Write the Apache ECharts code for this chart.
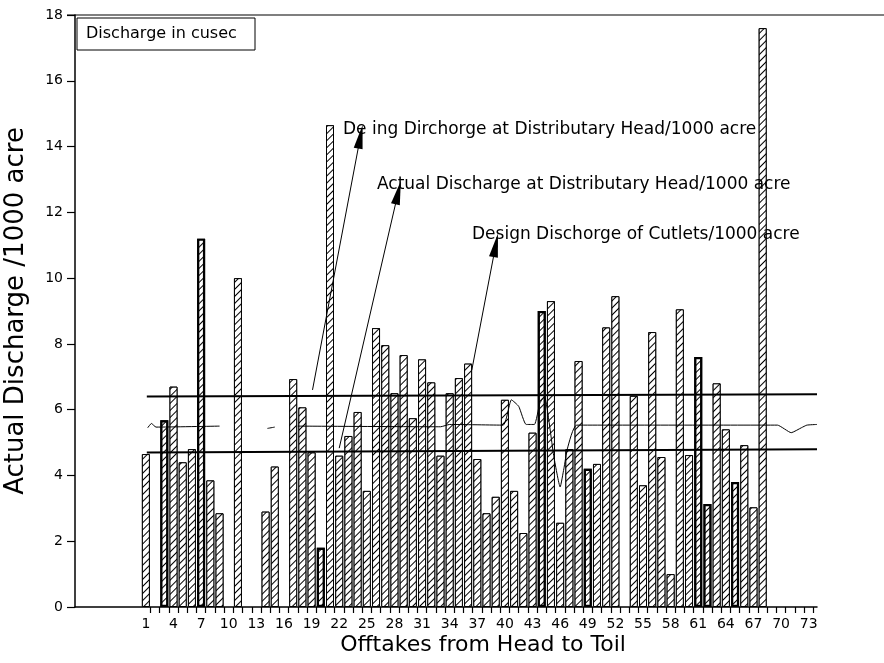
<!DOCTYPE html>
<html>
<head>
<meta charset="utf-8">
<script src="https://cdn.jsdelivr.net/npm/echarts@6/dist/echarts.min.js"></script>
<style>
  html, body { margin: 0; padding: 0; background: #fff; }
  #chart { width: 884px; height: 663px; }
</style>
</head>
<body>
<div id="chart"></div>
<script>
// offtake number of each bar and its discharge / 1000 acre
const offtakes = [1, 3, 4, 5, 6, 7, 8, 9, 11, 14, 15, 17, 18, 19, 20, 21, 22, 23, 24, 25,
  26, 27, 28, 29, 30, 31, 32, 33, 34, 35, 36, 37, 38, 39, 40, 41, 42, 43, 44, 45,
  46, 47, 48, 49, 50, 51, 52, 54, 55, 56, 57, 58, 59, 60, 61, 62, 63, 64, 65, 66, 67, 68]
const discharge = [4.65, 5.68, 6.7, 4.4, 4.8, 11.2, 3.85, 2.85, 10.0, 2.9, 4.27, 6.93, 6.07, 4.7, 1.8, 14.65, 4.6, 5.2, 5.93, 3.53,
  8.48, 7.96, 6.5, 7.66, 5.74, 7.53, 6.83, 4.6, 6.5, 6.96, 7.4, 4.5, 2.85, 3.35, 6.3, 3.53, 2.25, 5.3, 9.0, 9.3,
  2.56, 4.8, 7.48, 4.2, 4.35, 8.5, 9.45, 6.42, 3.7, 8.36, 4.56, 1.0, 9.05, 4.62, 7.6, 3.13, 6.8, 5.4, 3.8, 4.92, 3.03, 17.6]
// bars printed with a heavy outline in the scan
const boldBars = [3, 7, 20, 44, 49, 61, 62, 65]

// straight reference lines (start / end)
const upperLineX = [1.1, 73.9]
const upperLineY = [6.4, 6.47]
const lowerLineX = [1.1, 73.9]
const lowerLineY = [4.7, 4.8]

// thin wavy line, null = gap
const midLineX = [1.2, 1.6, 2.1, 9.0, null, 14.2, 15.0, null, 17.5, 33.0, 34.0, 39.8, 40.7, 41.5, 42.3, 43.2, 43.8, 44.3,
  45.3, 46.0, 46.4, 46.8, 47.8, 69.6, 71.1, 72.2, 72.8, 73.9]
const midLineY = [5.45, 5.58, 5.47, 5.5, null, 5.43, 5.47, null, 5.5, 5.48, 5.55, 5.53, 6.3, 6.1, 5.55, 5.55, 6.2, 6.4,
  4.6, 3.65, 4.2, 4.83, 5.53, 5.53, 5.3, 5.45, 5.53, 5.55]

// arrows [tailX, tailY, headX, headY]
const arrows = [
  [19.1, 6.6, 24.3, 14.3],
  [22.0, 4.83, 28.4, 12.6],
  [36.4, 7.2, 39.0, 11.0]
]

const xLabels = []
for (let k = 1; k <= 73; k += 3) xLabels.push(k)
const xTicks = []
for (let k = 1.5; k <= 73.5; k += 1) xTicks.push(k)

const font = "DejaVu Sans"

let myChart = echarts.init(document.getElementById("chart"), null, { renderer: "canvas" })

const hatch = {
  symbol: "rect",
  symbolSize: 1,
  dashArrayX: [1, 0],
  dashArrayY: [1, 4],
  rotation: -Math.PI / 4,
  color: "#000",
  backgroundColor: "#fff"
}

let option = {
  backgroundColor: "#fff",
  animation: false,
  grid: {
    left: 75,
    right: 67,
    top: 15,
    bottom: 56,
    containLabel: false,
    outerBoundsMode: "none"
  },
  xAxis: {
    type: "value",
    min: -6.7,
    max: 73.9,
    splitLine: { show: false },
    axisLine: { onZero: false, lineStyle: { color: "#000", width: 1.5 } },
    axisTick: { customValues: xTicks, length: 6, lineStyle: { color: "#000", width: 1.2 } },
    axisLabel: {
      customValues: xLabels,
      margin: 10,
      color: "#000",
      fontFamily: font,
      fontSize: 14
    }
  },
  yAxis: {
    type: "value",
    min: 0,
    max: 18,
    interval: 2,
    name: "Actual Discharge /1000 acre",
    nameLocation: "middle",
    nameGap: 46,
    nameTextStyle: { color: "#000", fontFamily: font, fontSize: 26 },
    splitLine: { show: false },
    axisLine: { show: true, onZero: false, lineStyle: { color: "#000", width: 1.5 } },
    axisTick: { show: true, length: 8, lineStyle: { color: "#000", width: 1.2 } },
    axisLabel: { margin: 12, color: "#000", fontFamily: font, fontSize: 14 }
  },
  series: [
    {
      type: "bar",
      barWidth: 8,
      data: offtakes.map((k, i) => ({
        value: [k, discharge[i]],
        itemStyle: { borderWidth: boldBars.includes(k) ? 2.2 : 1 }
      })),
      itemStyle: { color: "#fff", borderColor: "#000", borderWidth: 1, decal: hatch },
      z: 2
    },
    {
      type: "line",
      symbol: "none",
      data: upperLineX.map((x, i) => [x, upperLineY[i]]),
      lineStyle: { color: "#000", width: 2 },
      z: 3
    },
    {
      type: "line",
      symbol: "none",
      data: lowerLineX.map((x, i) => [x, lowerLineY[i]]),
      lineStyle: { color: "#000", width: 2 },
      z: 3
    },
    {
      type: "line",
      symbol: "none",
      connectNulls: false,
      smooth: 0.15,
      data: midLineX.map((x, i) => x === null ? [null, null] : [x, midLineY[i]]),
      lineStyle: { color: "#000", width: 1 },
      markLine: {
        silent: true,
        symbol: ["none", "triangle"],
        symbolSize: [9, 24],
        lineStyle: { color: "#000", width: 1, type: "solid" },
        itemStyle: { color: "#000" },
        label: { show: false },
        data: arrows.map(a => [
          { coord: [a[0], a[1]] },
          { coord: [a[2], a[3]] }
        ])
      },
      z: 4
    }
  ],
  graphic: [
    {
      type: "line",
      shape: { x1: 67, y1: 15, x2: 884, y2: 15 },
      style: { stroke: "#000", lineWidth: 1.2 },
      z: 10
    },
    {
      type: "rect",
      shape: { x: 77, y: 18, width: 178, height: 32 },
      style: { fill: "#fff", stroke: "#000", lineWidth: 1 },
      z: 10
    },
    {
      type: "text",
      x: 86, y: 34,
      style: { text: "Discharge in cusec", fill: "#000", font: "16px " + font, textVerticalAlign: "middle" },
      z: 11
    },
    {
      type: "text",
      x: 343, y: 130,
      style: { text: "De ing Dirchorge at Distributary Head/1000 acre", fill: "#000", font: "17px " + font, textVerticalAlign: "middle" },
      z: 11
    },
    {
      type: "text",
      x: 377, y: 185,
      style: { text: "Actual Discharge at Distributary Head/1000 acre", fill: "#000", font: "17px " + font, textVerticalAlign: "middle" },
      z: 11
    },
    {
      type: "text",
      x: 472, y: 235,
      style: { text: "Design Dischorge of Cutlets/1000 acre", fill: "#000", font: "17px " + font, textVerticalAlign: "middle" },
      z: 11
    },
    {
      type: "text",
      x: 483, y: 645,
      style: { text: "Offtakes from Head to Toil", fill: "#000", font: "22px " + font, textAlign: "center", textVerticalAlign: "middle" },
      z: 11
    }
  ]
}
myChart.setOption(option)
</script>
</body>
</html>
